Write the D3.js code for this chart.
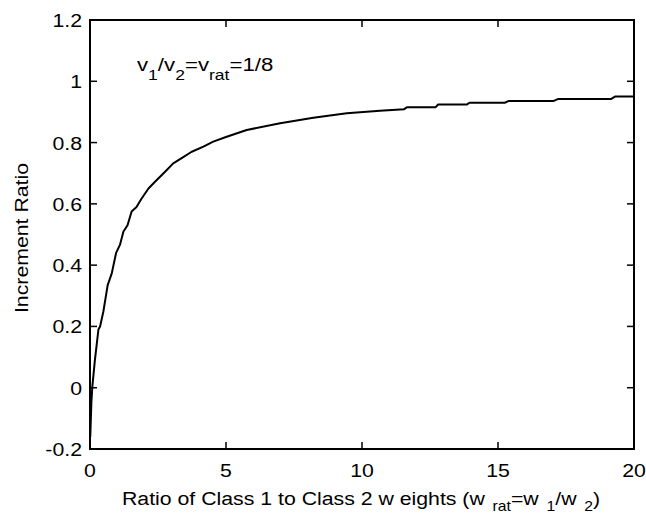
<!DOCTYPE html>
<html><head><meta charset="utf-8">
<script src="https://cdn.jsdelivr.net/npm/d3@7"></script>
<style>html,body{margin:0;padding:0;background:#fff;}svg{display:block;}</style>
</head><body>
<svg id="chart" width="646" height="517"></svg>
<script>
const xValues = [0.01, 0.05, 0.085, 0.18, 0.31, 0.37, 0.49, 0.65, 0.8, 0.96, 1.1, 1.23, 1.38, 1.53, 1.71, 1.88, 2.15, 2.39, 2.76, 3.06, 3.37, 3.74, 4.17, 4.53, 5.0, 5.76, 6.99, 8.21, 9.44, 10.66, 11.55, 11.65, 12.7, 12.8, 13.85, 13.95, 15.25, 15.4, 17.05, 17.2, 19.15, 19.3, 20];
const yValues = [-0.16, -0.05, 0.003, 0.09, 0.19, 0.2, 0.248, 0.335, 0.373, 0.44, 0.466, 0.51, 0.53, 0.575, 0.59, 0.615, 0.65, 0.672, 0.705, 0.732, 0.749, 0.77, 0.787, 0.803, 0.818, 0.841, 0.863, 0.881, 0.896, 0.904, 0.909, 0.915, 0.915, 0.924, 0.924, 0.930, 0.930, 0.936, 0.936, 0.942, 0.942, 0.950, 0.950];
const xTicks = [0, 5, 10, 15, 20];
const yTicks = [-0.2, 0, 0.2, 0.4, 0.6, 0.8, 1, 1.2];
const xLabel = "Ratio of Class 1 to Class 2 w eights (w";
const yLabel = "Increment Ratio";

const svg = d3.select("#chart");
const L = 90, R = 634, T = 20, B = 449;
const x = d3.scaleLinear().domain([0, 20]).range([L, R]);
const y = d3.scaleLinear().domain([-0.2, 1.2]).range([B, T]);
const font = "'Liberation Sans', Arial, sans-serif";
const fs = 19, sx = 1.12, tk = 7;

// ticks (all four sides, inward)
const g = svg.append("g").attr("stroke", "#000").attr("stroke-width", 1.5);
xTicks.forEach(v => {
  g.append("line").attr("x1", x(v)).attr("x2", x(v)).attr("y1", B).attr("y2", B - tk);
  g.append("line").attr("x1", x(v)).attr("x2", x(v)).attr("y1", T).attr("y2", T + tk);
});
yTicks.forEach(v => {
  g.append("line").attr("x1", L).attr("x2", L + tk).attr("y1", y(v)).attr("y2", y(v));
  g.append("line").attr("x1", R).attr("x2", R - tk).attr("y1", y(v)).attr("y2", y(v));
});
svg.append("rect").attr("x", L).attr("y", T).attr("width", R - L).attr("height", B - T)
  .attr("fill", "none").attr("stroke", "#000").attr("stroke-width", 2);

// tick labels
const fmt = v => (Math.round(v * 10) / 10).toString();
xTicks.forEach(v => {
  svg.append("text").attr("transform", `translate(${x(v)},${B + 28}) scale(${sx},1)`)
    .attr("text-anchor", "middle").attr("font-family", font).attr("font-size", fs).text(fmt(v));
});
yTicks.forEach(v => {
  svg.append("text").attr("transform", `translate(${L - 8},${y(v) + 7}) scale(${sx},1)`)
    .attr("text-anchor", "end").attr("font-family", font).attr("font-size", fs).text(fmt(v));
});

// curve
const pts = xValues.map((d, i) => [d, yValues[i]]);
svg.append("path").datum(pts)
  .attr("d", d3.line().x(d => x(d[0])).y(d => y(d[1])))
  .attr("fill", "none").attr("stroke", "#000").attr("stroke-width", 2).attr("stroke-linejoin", "round");

// x label
const xl = svg.append("text").attr("transform", `translate(122,505) scale(${sx},1)`)
  .attr("font-family", font).attr("font-size", fs);
xl.append("tspan").text(xLabel);
xl.append("tspan").attr("dx", 7).attr("dy", 6).attr("font-size", 14).text("rat");
xl.append("tspan").attr("dy", -6).text("=w");
xl.append("tspan").attr("dx", 7).attr("dy", 6).attr("font-size", 14).text("1");
xl.append("tspan").attr("dy", -6).text("/w");
xl.append("tspan").attr("dx", 7).attr("dy", 6).attr("font-size", 14).text("2");
xl.append("tspan").attr("dy", -6).text(")");

// y label
svg.append("text").attr("transform", `translate(28,238) rotate(-90) scale(${sx},1)`)
  .attr("text-anchor", "middle").attr("font-family", font).attr("font-size", fs).text(yLabel);

// annotation
const an = svg.append("text").attr("transform", `translate(137,71) scale(1.17,1)`)
  .attr("font-family", font).attr("font-size", fs);
an.append("tspan").text("v");
an.append("tspan").attr("dy", 9).attr("font-size", 15).text("1");
an.append("tspan").attr("dy", -9).text("/v");
an.append("tspan").attr("dy", 9).attr("font-size", 15).text("2");
an.append("tspan").attr("dy", -9).text("=v");
an.append("tspan").attr("dy", 9).attr("font-size", 15).text("rat");
an.append("tspan").attr("dy", -9).text("=1/8");
</script>
</body></html>
